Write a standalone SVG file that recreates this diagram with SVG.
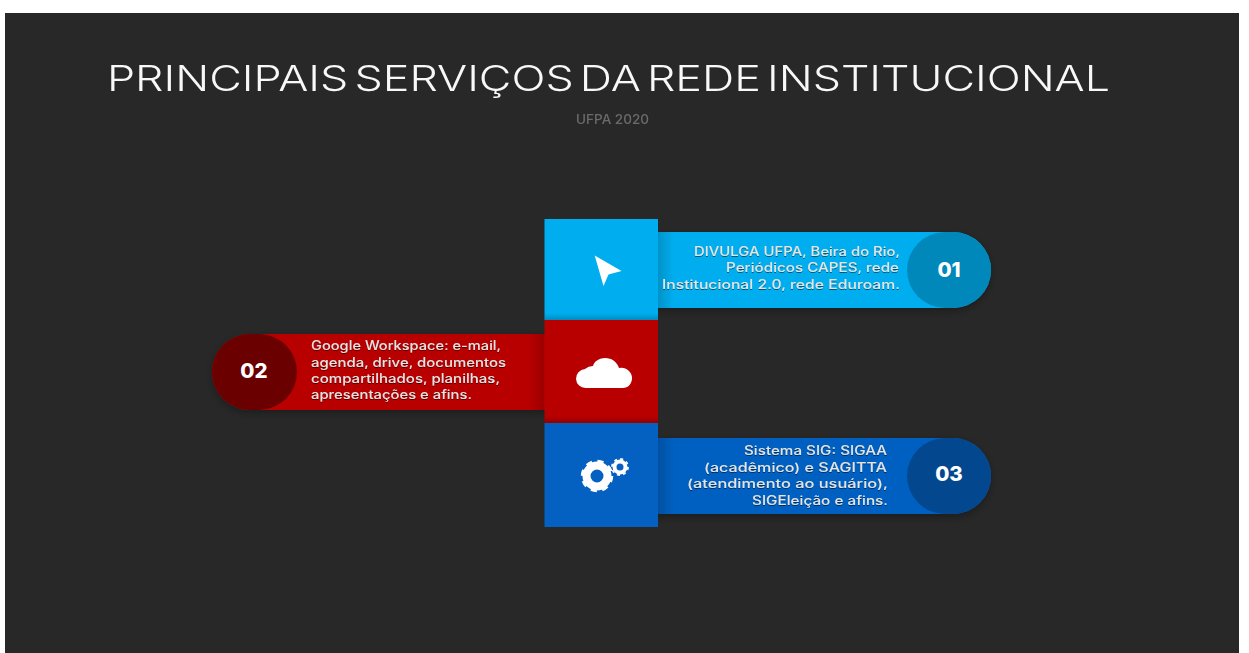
<svg xmlns="http://www.w3.org/2000/svg" width="1249" height="653" viewBox="0 0 1249 653">
<style>
.t{font-family:"Inter","Open Sans","Liberation Sans",sans-serif;font-size:12.5px;font-weight:500;fill:#e4e4e4}
.n{font-family:"Inter","Liberation Sans",sans-serif;font-size:20.5px;font-weight:800;fill:#fff;text-anchor:middle}
</style>
<defs>
<filter id="s" x="-20%" y="-30%" width="140%" height="170%"><feDropShadow dx="0" dy="3" stdDeviation="4" flood-color="#000" flood-opacity=".3"/></filter>
<filter id="ts" x="-5%" y="-20%" width="110%" height="150%"><feGaussianBlur in="SourceGraphic" stdDeviation=".4" result="b"/><feDropShadow in="b" dx="0" dy="1" stdDeviation=".7" flood-color="#000" flood-opacity=".5"/></filter>
<filter id="soft" x="-5%" y="-20%" width="110%" height="140%"><feGaussianBlur stdDeviation=".45"/></filter>
<linearGradient id="down" x1="0" y1="0" x2="0" y2="1"><stop offset="0" stop-color="#000" stop-opacity="0"/><stop offset="1" stop-color="#000" stop-opacity=".2"/></linearGradient>
<linearGradient id="rgt" x1="0" y1="0" x2="1" y2="0"><stop offset="0" stop-color="#000" stop-opacity=".16"/><stop offset="1" stop-color="#000" stop-opacity="0"/></linearGradient>
<linearGradient id="lft" x1="0" y1="0" x2="1" y2="0"><stop offset="0" stop-color="#000" stop-opacity="0"/><stop offset="1" stop-color="#000" stop-opacity=".16"/></linearGradient>
</defs>
<rect width="1249" height="653" fill="#fff"/>
<rect x="5" y="13" width="1234" height="640" fill="#282828"/>
<g id="title">
<text x="107" y="91" filter="url(#soft)" textLength="1003" lengthAdjust="spacingAndGlyphs" word-spacing="-5" font-family="Inter,'Open Sans','Liberation Sans',sans-serif" font-size="35" font-weight="300" fill="#f8f8f8">PRINCIPAIS SERVIÇOS DA REDE INSTITUCIONAL</text>
<text x="576" y="124" filter="url(#soft)" textLength="73" lengthAdjust="spacingAndGlyphs" font-family="Inter,'Liberation Sans',sans-serif" font-size="12.500" font-weight="500" fill="#6a6a6a">UFPA 2020</text>
</g>
<g id="connectors"/>
<g id="node-01">
<path d="M640 232H953a38 38 0 0 1 0 76H640z" fill="#00aeef" filter="url(#s)"/>
<rect x="658" y="232" width="16" height="76" fill="url(#rgt)"/>
<path d="M945 232h8a38 38 0 0 1 0 76h-8a38 38 0 0 1 0-76z" fill="#0088ba"/>
<rect x="544.500" y="219" width="113.500" height="101" fill="#00aeef"/>
<rect x="544.500" y="313" width="113.500" height="7" fill="url(#down)"/>
<path d="M594.700 255.500l26.800 15.500-13 3.500-5 11.500z" fill="#fff" filter="url(#soft)"/>
<g class="t" filter="url(#ts)"><text x="694" y="256" textLength="206" lengthAdjust="spacingAndGlyphs">DIVULGA UFPA, Beira do Rio,</text><text x="726" y="272" textLength="173" lengthAdjust="spacingAndGlyphs">Periódicos CAPES, rede</text><text x="662" y="289" textLength="238" lengthAdjust="spacingAndGlyphs">Institucional 2.0, rede Eduroam.</text></g>
<text class="n" x="949" y="277">01</text>
</g>
<g id="node-02">
<path d="M560 334H250a38 38 0 0 0 0 76H560z" fill="#b80000" filter="url(#s)"/>
<rect x="528" y="334" width="16.500" height="76" fill="url(#lft)"/>
<path d="M250 334h9a38 38 0 0 1 0 76h-9a38 38 0 0 1 0-76z" fill="#6b0000"/>
<rect x="544.500" y="320" width="113.500" height="103" fill="#b80000"/>
<rect x="544.500" y="416" width="113.500" height="7" fill="url(#down)"/>
<path d="M586 388a9.500 9.500 0 0 1-1-19 12 12 0 0 1 8-3c1-5 7-8 12-8 7 0 12 4 14 10a10.500 10.500 0 0 1 13 10c0 6-4 10-9 10z" fill="#fff" filter="url(#soft)"/>
<g class="t" filter="url(#ts)"><text x="311" y="350" textLength="190" lengthAdjust="spacingAndGlyphs">Google Workspace: e-mail,</text><text x="311" y="367" textLength="195" lengthAdjust="spacingAndGlyphs">agenda, drive, documentos</text><text x="311" y="383" textLength="189" lengthAdjust="spacingAndGlyphs">compartilhados, planilhas,</text><text x="311" y="399" textLength="161" lengthAdjust="spacingAndGlyphs">apresentações e afins.</text></g>
<text class="n" x="254" y="378">02</text>
</g>
<g id="node-03">
<path d="M640 438H953a38 38 0 0 1 0 76H640z" fill="#0461c1" filter="url(#s)"/>
<rect x="658" y="438" width="16" height="76" fill="url(#rgt)"/>
<path d="M945 438h8a38 38 0 0 1 0 76h-8a38 38 0 0 1 0-76z" fill="#03478f"/>
<rect x="544.500" y="423" width="113.500" height="104" fill="#0461c1"/>
<g fill="none" stroke="#fff" filter="url(#soft)"><circle cx="597" cy="476" r="10.500" stroke-width="8"/><circle cx="597" cy="476" r="14.500" stroke-width="3.500" stroke-dasharray="6 5.390"/><circle cx="620" cy="467" r="5.500" stroke-width="4"/><circle cx="620" cy="467" r="8" stroke-width="1.800" stroke-dasharray="3 3.280"/></g>
<g class="t" filter="url(#ts)"><text x="744" y="455" textLength="143" lengthAdjust="spacingAndGlyphs">Sistema SIG: SIGAA</text><text x="704" y="472" textLength="183" lengthAdjust="spacingAndGlyphs">(acadêmico) e SAGITTA</text><text x="687" y="488" textLength="201" lengthAdjust="spacingAndGlyphs">(atendimento ao usuário),</text><text x="752" y="505" textLength="136" lengthAdjust="spacingAndGlyphs">SIGEleição e afins.</text></g>
<text class="n" x="949" y="481">03</text>
</g>
</svg>
